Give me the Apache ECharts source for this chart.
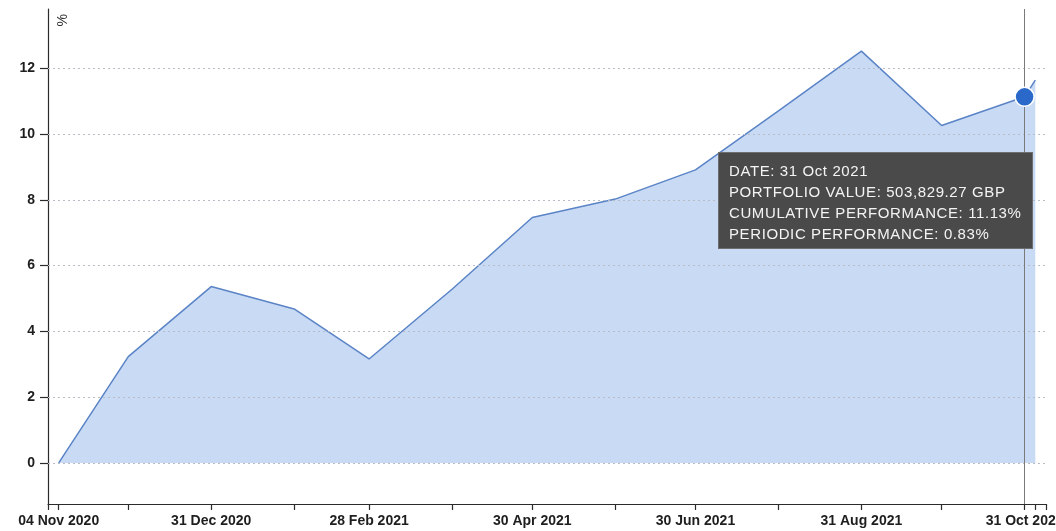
<!DOCTYPE html>
<html>
<head>
<meta charset="utf-8">
<script src="https://cdn.jsdelivr.net/npm/echarts@6/dist/echarts.min.js"></script>
<style>
  html, body { margin: 0; padding: 0; background: #fff; }
  #chart { width: 1056px; height: 531px; }
</style>
</head>
<body>
<div id="chart"></div>
<script>
// data
const dates = ['2020-11-04', '2020-11-30', '2020-12-31', '2021-01-31', '2021-02-28', '2021-03-31',
  '2021-04-30', '2021-05-31', '2021-06-30', '2021-07-31', '2021-08-31', '2021-09-30', '2021-10-31', '2021-11-04'];
const cumPerf = [0, 3.23, 5.36, 4.68, 3.16, 5.28, 7.46, 8.02, 8.91, 10.70, 12.52, 10.26, 11.13, 11.64];

const axisStart = '2020-10-31';
const axisEnd = '2021-11-08';
const tickDates = ['2020-10-31', '2020-11-04', '2020-11-30', '2020-12-31', '2021-01-31', '2021-02-28', '2021-03-31',
  '2021-04-30', '2021-05-31', '2021-06-30', '2021-07-31', '2021-08-31', '2021-09-30', '2021-10-31', '2021-11-04', '2021-11-08'];
const labelDates = ['2020-11-04', '2020-12-31', '2021-02-28', '2021-04-30', '2021-06-30', '2021-08-31', '2021-10-31'];
const yTicks = [0, 2, 4, 6, 8, 10, 12];

// tooltip shown in the picture
const tipIndex = 12;
const tipPortfolioValue = '503,829.27';
const tipCurrency = 'GBP';
const tipPeriodicPerf = 0.83;

const MONTHS = ['Jan', 'Feb', 'Mar', 'Apr', 'May', 'Jun', 'Jul', 'Aug', 'Sep', 'Oct', 'Nov', 'Dec'];
const ts = (s) => Date.parse(s + 'T00:00:00Z');
const fmtDate = (v) => {
  const d = new Date(v);
  const dd = String(d.getUTCDate()).padStart(2, '0');
  return `${dd} ${MONTHS[d.getUTCMonth()]} ${d.getUTCFullYear()}`;
};

const seriesData = dates.map((d, i) => [ts(d), cumPerf[i]]);
const axisColor = '#2b2b2b';
const labelStyle = {
  color: '#1e1e1e', fontSize: 14, fontWeight: 'bold', fontFamily: 'Liberation Sans, Arial, sans-serif',
};

const chart = echarts.init(document.getElementById('chart'), null, { renderer: 'canvas' });

chart.setOption({
  animation: false,
  backgroundColor: '#fff',
  grid: {
    left: 48, right: 10, top: 9, bottom: 27, containLabel: false, outerBoundsMode: 'none',
  },
  tooltip: {
    trigger: 'axis',
    triggerOn: 'none',
    alwaysShowContent: true,
    transitionDuration: 0,
    position: [718, 152],
    backgroundColor: '#4a4a4a',
    borderColor: '#6e6e6e',
    borderWidth: 1,
    padding: [7, 10, 4, 10],
    extraCssText: 'box-shadow:none;border-radius:0;',
    textStyle: {
      color: '#f4f4f4', fontSize: 15, fontFamily: 'Liberation Sans, Arial, sans-serif',
    },
    axisPointer: {
      type: 'line',
      lineStyle: { color: '#7a7a7a', width: 1, type: 'solid' },
      label: { show: false },
    },
    formatter: () => {
      const lines = [
        `DATE: ${fmtDate(ts(dates[tipIndex]))}`,
        `PORTFOLIO VALUE: ${tipPortfolioValue} ${tipCurrency}`,
        `CUMULATIVE PERFORMANCE: ${cumPerf[tipIndex].toFixed(2)}%`,
        `PERIODIC PERFORMANCE: ${tipPeriodicPerf.toFixed(2)}%`,
      ];
      return `<div style="line-height:21px;letter-spacing:0.6px;white-space:nowrap">${lines.join('<br>')}</div>`;
    },
  },
  xAxis: {
    // dates as UTC timestamps on a value axis so custom tick positions work
    type: 'value',
    min: ts(axisStart),
    max: ts(axisEnd),
    axisLine: { onZero: false, lineStyle: { color: axisColor, width: 1.2 } },
    axisTick: {
      show: true, length: 6, lineStyle: { color: axisColor, width: 1.2 },
      customValues: tickDates.map(ts),
    },
    axisLabel: {
      ...labelStyle,
      margin: 10,
      customValues: labelDates.map(ts),
      formatter: (v) => fmtDate(v),
    },
    splitLine: { show: false },
  },
  yAxis: {
    type: 'value',
    min: -1.25,
    max: 13.8,
    axisLine: { show: true, lineStyle: { color: axisColor, width: 1.2 } },
    axisTick: {
      show: true, length: 8, lineStyle: { color: axisColor, width: 1.2 },
      customValues: yTicks,
    },
    axisLabel: {
      ...labelStyle,
      margin: 13,
      customValues: yTicks,
    },
    splitLine: { show: false },
  },
  graphic: [{
    type: 'text',
    left: 56,
    top: 14,
    rotation: Math.PI / 2,
    style: {
      text: '%', fill: '#333', fontSize: 14, fontFamily: 'Liberation Sans, Arial, sans-serif',
    },
  }],
  series: [
    {
      name: 'Cumulative performance',
      type: 'line',
      data: seriesData,
      symbol: 'none',
      lineStyle: { color: '#5a84c6', width: 1.5 },
      areaStyle: { color: '#c9daf4', opacity: 1 },
      emphasis: { disabled: true },
      markLine: {
        silent: true,
        symbol: ['none', 'none'],
        label: { show: false },
        lineStyle: { color: '#b9bcc4', width: 1, type: [2, 3] },
        data: yTicks.map((v) => ({ yAxis: v })),
      },
    },
    {
      // selected point, on its own layer so it sits over the line and the pointer
      name: 'Selected',
      type: 'scatter',
      data: [seriesData[tipIndex]],
      symbol: 'circle',
      symbolSize: 19,
      silent: true,
      itemStyle: { color: '#2a69c9', borderColor: '#fff', borderWidth: 1.5, opacity: 1 },
      emphasis: { disabled: true, scale: false },
      zlevel: 1,
      z: 60,
    },
  ],
});

chart.dispatchAction({ type: 'showTip', seriesIndex: 0, dataIndex: tipIndex });
</script>
</body>
</html>
